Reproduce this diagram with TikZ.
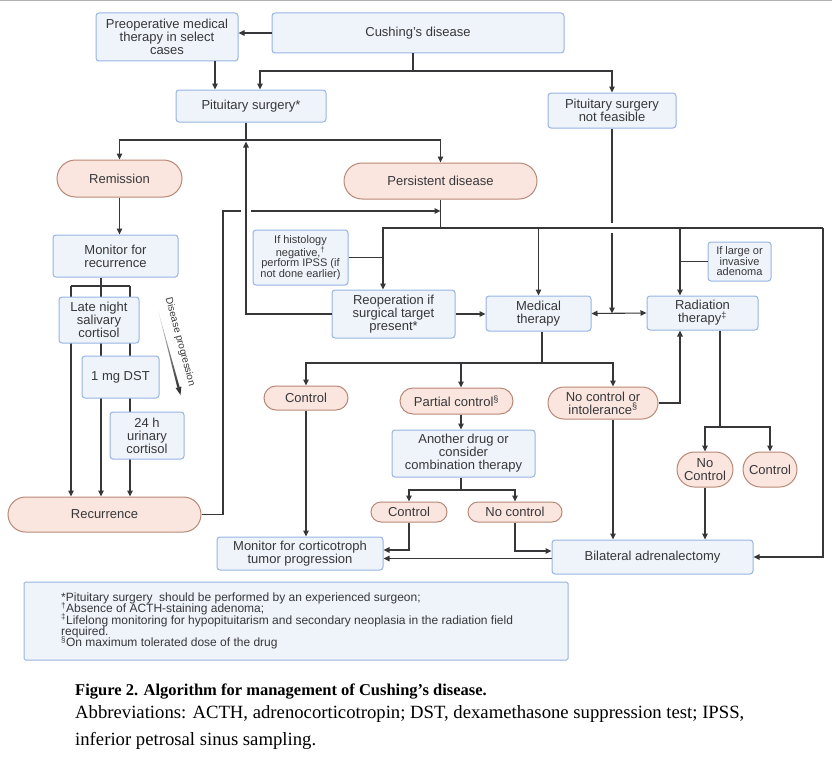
\documentclass[tikz,border=0pt]{standalone}
\usepackage{fontspec}
\setmainfont{Liberation Serif}
\setsansfont{Liberation Sans}
\usetikzlibrary{
    arrows.meta,
    backgrounds
}
\definecolor{ink}{RGB}{55,55,58}
\definecolor{boxline}{RGB}{150,180,228}
\definecolor{boxfill}{RGB}{239,244,250}
\definecolor{pillline}{RGB}{184,136,118}
\definecolor{pillfill}{RGB}{250,230,223}
\definecolor{pagerule}{RGB}{178,178,178}
\newcommand{\fnmark}[1]{\smash{\textsuperscript{#1}}}
\tikzset{
    stepbox/.style={
        rectangle,
        draw=boxline,
        fill=boxfill,
        line width=1pt,
        rounded corners=3pt,
        align=center,
        inner sep=1pt,
        text=ink,
        font=\sffamily\fontsize{13}{13}\selectfont
    },
    outcome/.style={
        stepbox,
        draw=pillline,
        fill=pillfill,
        minimum height=#1,
        rounded corners=#1/2
    },
    notebox/.style={
        stepbox,
        font=\sffamily\fontsize{11}{10.5}\selectfont
    },
    plain/.style={
        draw=ink,
        line width=1.1pt
    },
    flow/.style={
        plain,
        -{Triangle[length=6pt,width=5.5pt]}
    },
    bothflow/.style={
        plain,
        {Triangle[length=6pt,width=5.5pt]}-{Triangle[length=6pt,width=5.5pt]}
    },
    caption/.style={
        anchor=base west,
        align=left,
        inner sep=0pt
    }
}

\begin{document}
\begin{tikzpicture}[x=1pt, y=-1pt]
\useasboundingbox (0,0) rectangle (832,768);
\draw[pagerule, line width=1.5pt] (0,0.75) -- (832,0.75);

% Top: diagnosis and first surgery
\node[stepbox, minimum width=142, minimum height=48] (preop) at (167,37) {Preoperative medical\\therapy in select\\cases};
\node[stepbox, minimum width=292, minimum height=40] (cd) at (418,33) {Cushing's disease};
\node[stepbox, minimum width=150, minimum height=32] (ps) at (251,106) {Pituitary surgery*};
\node[stepbox, minimum width=128, minimum height=35] (psnf) at (612,110.5) {Pituitary surgery\\not feasible};
\node[outcome=37, minimum width=125] (rem) at (119.5,178.5) {Remission};
\node[outcome=36, minimum width=193] (pers) at (440.5,181) {Persistent disease};

% Left: follow-up after remission
\node[stepbox, minimum width=125, minimum height=42] (mon) at (115.5,256) {Monitor for\\recurrence};
\node[stepbox, minimum width=80, minimum height=46] (lnsc) at (99,320) {Late night\\salivary\\cortisol};
\node[stepbox, minimum width=77, minimum height=42] (dst) at (120.5,377) {1 mg DST};
\node[stepbox, minimum width=74, minimum height=47] (ufc) at (147,435.5) {24 h\\urinary\\cortisol};
\node[outcome=35, minimum width=193] (rec) at (104.5,514.5) {Recurrence};
\node[rotate=-75, text=ink, font=\sffamily\fontsize{10}{10}\selectfont] (prog) at (180,342) {Disease progression};

% Middle: second-line options
\node[notebox, minimum width=95, minimum height=55] (hist) at (300.5,257.5) {If histology\\negative,\textsuperscript{†}\\perform IPSS (if\\not done earlier)};
\node[stepbox, minimum width=123, minimum height=48] (reop) at (393.5,314) {Reoperation if\\surgical target\\present*};
\node[stepbox, minimum width=105, minimum height=35] (med) at (538.5,313.5) {Medical\\therapy};
\node[stepbox, minimum width=111, minimum height=34] (rad) at (702.5,313) {Radiation\\therapy\textsuperscript{‡}};
\node[notebox, minimum width=63, minimum height=39] (big) at (739.5,261.5) {If large or\\invasive\\adenoma};

% Bottom: response to therapy
\node[outcome=24, minimum width=84] (ctl) at (306,398) {Control};
\node[outcome=26, minimum width=113] (part) at (456.5,401) {Partial control\textsuperscript{§}};
\node[outcome=32, minimum width=110] (nci) at (603,403) {No control or\\intolerance\textsuperscript{§}};
\node[stepbox, minimum width=143, minimum height=47] (alt) at (463.5,453.5) {Another drug or\\consider\\combination therapy};
\node[outcome=20, minimum width=76] (ctl2) at (409,512) {Control};
\node[outcome=20, minimum width=94] (nc2) at (515,512) {No control};
\node[outcome=35, minimum width=56] (rnc) at (705,469.5) {No\\Control};
\node[outcome=35, minimum width=54] (rctl) at (770,469.5) {Control};
\node[stepbox, minimum width=166, minimum height=33] (mct) at (300,553.5) {Monitor for corticotroph\\tumor progression};
\node[stepbox, minimum width=201, minimum height=34] (bla) at (652.5,557) {Bilateral adrenalectomy};

% Footnotes and caption
\node[stepbox, rounded corners=1.5pt, minimum width=544, minimum height=78] (fnbox) at (296,621) {};
\node[anchor=west, align=left, inner sep=0pt, text=ink, font=\sffamily\fontsize{12}{11.3}\selectfont] (notes) at (61,621) {*Pituitary surgery\ \ should be performed by an experienced surgeon;\\\fnmark{†}Absence of ACTH-staining adenoma;\\\fnmark{‡}Lifelong monitoring for hypopituitarism and secondary neoplasia in the radiation field\\required.\\\fnmark{§}On maximum tolerated dose of the drug};
\node[caption, font=\rmfamily\bfseries\fontsize{16.5}{20}\selectfont] (cap) at (75,695) {Figure 2. Algorithm for management of Cushing’s disease.};
\node[caption, font=\rmfamily\fontsize{18.7}{26.5}\selectfont] (abbr) at (75,745) {Abbreviations: ACTH, adrenocorticotropin; DST, dexamethasone suppression test; IPSS,\\inferior petrosal sinus sampling.};

% Junctions
\coordinate (j1) at (413,71);
\coordinate (j2) at (246,140);
\coordinate (j3) at (440.5,228);
\coordinate (j4) at (542,363);
\coordinate (j5) at (720,427);
\coordinate (j6) at (461,490);
\coordinate (j7) at (823,228);
\coordinate (lnL) at (71,286);
\coordinate (lnM) at (101,286);
\coordinate (lnR) at (130,286);
\coordinate (up1) at (223,211);
\coordinate (hop1) at (241,211);
\coordinate (hop2) at (251,211);
\coordinate (hop3) at (612,223);
\coordinate (hop4) at (612,233);
\coordinate (ncx) at (613,0);
\coordinate (pre) at ([xshift=48pt]preop.south);
\coordinate (psin) at ([xshift=9pt]ps.north);
\coordinate (rin) at ([xshift=-10.5pt]reop.north);
\coordinate (radin) at ([xshift=-22.5pt]rad.north);
\coordinate (mctin) at ([yshift=3.5pt]mct.east);
\coordinate (blain) at ([yshift=6pt]bla.west);
\coordinate (blaout) at ([yshift=-1.5pt]bla.west);

% Connectors: top
\draw[flow] (cd.west) -- (cd.west -| preop.east);
\draw[plain] (cd.south -| j1) -- (j1);
\draw[flow] (j1) -| (psin);
\draw[flow] (j1) -| (psnf.north);
\draw[flow] (pre) -- (pre |- ps.north);
\draw[plain] (ps.south -| j2) -- (j2);
\draw[flow] (j2) -| (rem.north);
\draw[flow] (j2) -| (pers.north);
\draw[flow] (rem.south) -- (rem.south |- mon.north);

% Connectors: monitoring lanes
\begin{scope}[on background layer]
    \draw[plain] (mon.south -| lnM) -- (lnM);
    \draw[plain] (lnL) -- (lnR);
    \draw[flow] (lnL) -- (lnL |- rec.north);
    \draw[flow] (lnM) -- (lnM |- rec.north);
    \draw[flow] (lnR) -- (lnR |- rec.north);
\end{scope}
\shade[top color=ink!15, bottom color=ink] (158,310) -- (179.6,387) -- (177.3,387.6) -- cycle;
\fill[ink] (181.4,386.5) -- (175.6,388) -- (180.5,395) -- cycle;

% Connectors: recurrence and persistent disease
\draw[plain] (rec.east) -| (up1) -- (hop1);
\draw[flow] (hop2) -- (hop2 -| pers.south);
\draw[flow] (reop.west) -| ([yshift=-1.5pt]j2);
\draw[plain] (pers.south) -- (j3);
\draw[plain] (j3) -- (j7);
\draw[flow] (j3) -| (rin);
\draw[plain] (hist.east) -- (hist.east -| rin);
\draw[flow] (j3) -| (med.north);
\draw[flow] (j3) -| (radin);
\draw[plain] (big.west) -- (big.west -| radin);
\draw[flow] (j7) |- (bla.east);
\draw[plain] (psnf.south) -- (hop3);
\draw[flow] (hop4) -- (hop4 |- med.east);
\draw[bothflow] (med.east) -- (rad.west);
\draw[flow] (reop.east) -- (reop.east -| med.west);

% Connectors: therapy outcomes
\draw[plain] (med.south -| j4) -- (j4);
\draw[flow] (j4) -| (ctl.north);
\draw[flow] (j4) -| (part.north -| j6);
\draw[flow] (j4) -| (nci.north -| ncx);
\draw[flow] (part.south -| j6) -- (alt.north -| j6);
\draw[flow] (nci.east) -| (radin |- rad.south);
\draw[plain] (rad.south -| j5) -- (j5);
\draw[flow] (j5) -| (rnc.north);
\draw[flow] (j5) -| (rctl.north);
\draw[flow] (rnc.south) -- (rnc.south |- bla.north);
\draw[flow] (nci.south -| ncx) -- (ncx |- bla.north);
\draw[plain] (alt.south -| j6) -- (j6);
\draw[flow] (j6) -| (ctl2.north);
\draw[flow] (j6) -| (nc2.north);
\draw[flow] (ctl.south) -- (ctl.south |- mct.north);
\draw[flow] (ctl2.south) |- (mctin);
\draw[flow] (nc2.south) |- (blain);
\draw[flow] (blaout) -- (blaout -| mct.east);

\end{tikzpicture}
\end{document}
